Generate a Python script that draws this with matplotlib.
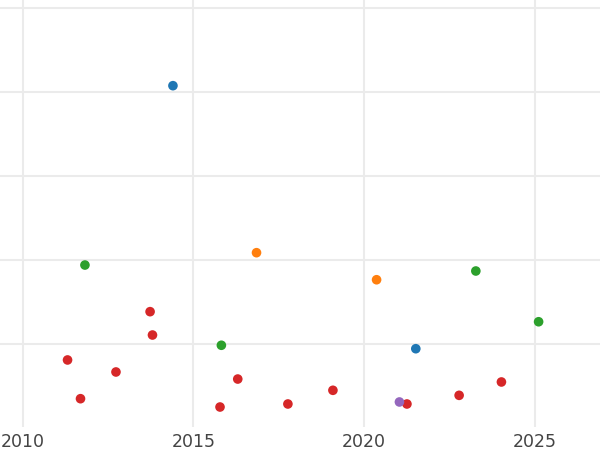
import matplotlib
matplotlib.use("Agg")
import matplotlib.pyplot as plt

# points per colour group: (year, value)
blue_x = [2014.40, 2021.52]
blue_y = [4.075, 0.944]
orange_x = [2016.85, 2020.37]
orange_y = [2.087, 1.765]
green_x = [2011.82, 2015.82, 2023.28, 2025.12]
green_y = [1.940, 0.985, 1.869, 1.265]
red_x = [2011.31, 2011.69, 2012.73, 2013.73, 2013.80, 2015.78, 2016.30,
         2017.77, 2019.09, 2021.26, 2022.79, 2024.03]
red_y = [0.810, 0.349, 0.667, 1.385, 1.107, 0.250, 0.583,
         0.286, 0.449, 0.286, 0.389, 0.548]
purple_x = [2021.04]
purple_y = [0.310]

xticks = [2010, 2015, 2020, 2025]
yticks = [1, 2, 3, 4, 5]

fig = plt.figure(figsize=(6, 4.5), dpi=100)
ax = fig.add_axes([0, 0.0511, 1, 0.9489])

for x, y, c in [(blue_x, blue_y, "tab:blue"), (orange_x, orange_y, "tab:orange"),
                (green_x, green_y, "tab:green"), (red_x, red_y, "tab:red"),
                (purple_x, purple_y, "tab:purple")]:
    ax.scatter(x, y, s=48, color=c, edgecolors="none", zorder=3)

ax.set_xlim(2009.33, 2026.92)
ax.set_ylim(0.012, 5.095)
ax.set_xticks(xticks)
ax.set_yticks(yticks)
ax.set_yticklabels([])
ax.grid(True, color="#ebebeb", linewidth=1.5)
ax.set_axisbelow(True)
for s in ax.spines.values():
    s.set_visible(False)
ax.tick_params(axis="both", length=0)
ax.tick_params(axis="x", labelsize=12.5, labelcolor="#444444", pad=4)

fig.savefig("out.png", dpi=100)
